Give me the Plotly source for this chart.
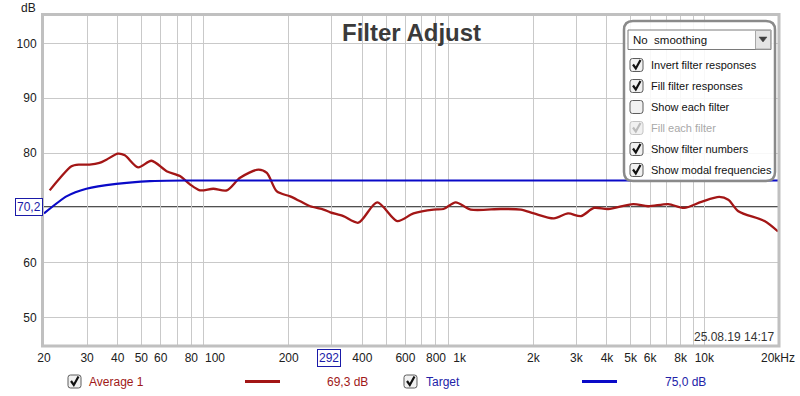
import math
import plotly.graph_objects as go

# ---------------- data ----------------
AVG_FREQ = [21.1, 23.3, 25.9, 27.9, 30.7, 33.7, 36.0, 40.1, 42.8, 48.5, 55.0, 63.4, 71.9, 79.0, 86.8,
            98.4, 111.7, 126.6, 150.5, 162.9, 179, 202.9, 223, 245, 277.8, 296, 334.7, 385.4, 460,
            555.5, 647.6, 782, 859, 963, 1109, 1472, 1778, 2010, 2427, 2773, 3133, 3539, 4045,
            5118, 5890, 7115, 8272, 9724, 11510, 12530, 13770, 17610, 20000]
AVG_DB = [73.2, 75.5, 77.6, 77.9, 77.9, 78.2, 78.8, 79.9, 79.6, 77.4, 78.6, 76.7, 75.8, 74.3, 73.2,
          73.5, 73.2, 75.5, 77.0, 76.4, 73.0, 72.1, 71.2, 70.3, 69.7, 69.2, 68.5, 67.3, 71.0,
          67.6, 69.0, 69.7, 69.8, 71.0, 69.7, 69.8, 69.7, 69.0, 68.1, 69.0, 68.5, 70.0, 69.8,
          70.7, 70.3, 70.7, 70.0, 71.1, 72.0, 71.5, 69.4, 67.6, 65.7]

TGT_FREQ = [20, 24.7, 29.8, 39.5, 54.2, 75.3, 100, 20000]
TGT_DB = [69.0, 72.1, 73.5, 74.4, 74.9, 75.0, 75.0, 75.0]

X_TICK_VALS = [20, 30, 40, 50, 60, 80, 100, 200, 400, 600, 800, 1000, 2000, 3000, 4000,
               5000, 6000, 8000, 10000, 20000]
X_TICK_TEXT = ["20", "30", "40", "50", "60", "80", "100", "200", "400", "600", "800", "1k",
               "2k", "3k", "4k", "5k", "6k", "8k", "10k", "20kHz"]
X_GRID = [m * d for d in (10, 100, 1000) for m in range(2, 10)] + [10000, 20000]
DECADE_LINES = [100, 1000, 10000]
Y_TICK_VALS = [50, 60, 70, 80, 90, 100]
Y_TICK_TEXT = ["50", "60", "", "80", "90", "100"]   # 70 is hidden behind the cursor box

CURSOR_FREQ = 292
CURSOR_DB = 70.2
CURSOR_FREQ_TEXT = "292"
CURSOR_DB_TEXT = "70,2"

LEGEND_NAMES = ["Average 1", "Target"]
LEGEND_VALUES = ["69,3 dB", "75,0 dB"]

PANEL_DROPDOWN = "No\u00a0 smoothing"
PANEL_ITEMS = ["Invert filter responses", "Fill filter responses", "Show each filter",
               "Fill each filter", "Show filter numbers", "Show modal frequencies"]
PANEL_CHECKED = [True, True, False, True, True, True]
PANEL_ENABLED = [True, True, True, False, True, True]

TITLE = "Filter Adjust"
DATE_TEXT = "25.08.19 14:17"

# ---------------- style ----------------
RED = "#a31616"
BLUE = "#0a0ac8"
RED_TXT = "#a01818"
BLUE_TXT = "#2222a8"
FONT = "Liberation Sans, Arial, sans-serif"

PL, PR, PT, PB = 44, 778, 16, 345


def px(x):
    return (x - PL) / (PR - PL)


def py(y):
    return (PB - y) / (PB - PT)


def rr_path(x0, y0, x1, y1, r):
    P = lambda x, y: f"{px(x):.5f},{py(y):.5f}"
    return (f"M {P(x0 + r, y0)} L {P(x1 - r, y0)} Q {P(x1, y0)} {P(x1, y0 + r)} "
            f"L {P(x1, y1 - r)} Q {P(x1, y1)} {P(x1 - r, y1)} L {P(x0 + r, y1)} "
            f"Q {P(x0, y1)} {P(x0, y1 - r)} L {P(x0, y0 + r)} Q {P(x0, y0)} {P(x0 + r, y0)} Z")


def poly_path(pts, close=False):
    s = "M " + " L ".join(f"{px(x):.5f},{py(y):.5f}" for x, y in pts)
    return s + (" Z" if close else "")


fig = go.Figure()
fig.add_trace(go.Scatter(x=AVG_FREQ, y=AVG_DB, mode="lines", hoverinfo="skip",
                         line=dict(color=RED, width=2.3, shape="spline", smoothing=0.8)))
fig.add_trace(go.Scatter(x=TGT_FREQ, y=TGT_DB, mode="lines", hoverinfo="skip",
                         line=dict(color=BLUE, width=2.2, shape="spline", smoothing=0.6)))

shapes = []
# date background (covers minor grid)
shapes.append(dict(type="rect", xref="paper", yref="paper", x0=px(693), x1=px(777), y0=py(345),
                   y1=py(330), fillcolor="white", line=dict(width=0), layer="below"))
for f in DECADE_LINES:
    shapes.append(dict(type="line", xref="x", yref="paper", x0=math.log10(f), x1=math.log10(f),
                       y0=0, y1=1, line=dict(color="#8e8e8e", width=1), layer="below"))
# cursors
shapes.append(dict(type="line", xref="x", yref="paper", x0=math.log10(CURSOR_FREQ),
                   x1=math.log10(CURSOR_FREQ), y0=0, y1=1, line=dict(color="black", width=1),
                   layer="below"))
shapes.append(dict(type="line", xref="paper", yref="y", x0=0, x1=1, y0=CURSOR_DB, y1=CURSOR_DB,
                   line=dict(color="black", width=1), layer="below"))
# frame
shapes.append(dict(type="rect", xref="paper", yref="paper", x0=px(42.5), x1=px(779), y0=py(346),
                   y1=py(14.5), line=dict(color="#c0c0c0", width=3), layer="above"))

# control panel
shapes.append(dict(type="path", xref="paper", yref="paper", path=rr_path(624, 21, 775, 181, 9),
                   fillcolor="rgba(255,255,255,0.86)", line=dict(color="#8a8a8a", width=2.5)))
shapes.append(dict(type="rect", xref="paper", yref="paper", x0=px(628), x1=px(771), y0=py(49.5),
                   y1=py(30), fillcolor="white", line=dict(color="#7a7a7a", width=1)))
shapes.append(dict(type="rect", xref="paper", yref="paper", x0=px(755.5), x1=px(770.5),
                   y0=py(49), y1=py(30.5), fillcolor="#e4e4e4", line=dict(color="#a8a8a8", width=1)))
shapes.append(dict(type="path", xref="paper", yref="paper",
                   path=poly_path([(759, 37), (767, 37), (763, 42)], close=True),
                   fillcolor="#404040", line=dict(color="#404040", width=0.5)))


def checkbox(x0, yc, checked=True, enabled=True):
    border = "#5c5c5c" if enabled else "#c4c4c4"
    tick = "#111111" if enabled else "#bcbcbc"
    out = [dict(type="path", xref="paper", yref="paper", path=rr_path(x0, yc - 6.5, x0 + 13, yc + 6.5, 2.5),
                fillcolor="#f1f1f1", line=dict(color=border, width=1))]
    if checked:
        out.append(dict(type="path", xref="paper", yref="paper",
                        path=poly_path([(x0 + 3, yc - 0.5), (x0 + 5.8, yc + 3.5), (x0 + 10.5, yc - 5)]),
                        line=dict(color=tick, width=2.2)))
    return out


annotations = []
for i, (lab, chk, en) in enumerate(zip(PANEL_ITEMS, PANEL_CHECKED, PANEL_ENABLED)):
    yc = 65 + 21 * i
    shapes += checkbox(630, yc, chk, en)
    annotations.append(dict(text=lab, x=px(649), y=py(yc), xref="paper", yref="paper",
                            xanchor="left", yanchor="middle", showarrow=False,
                            font=dict(size=11, color="#111111" if en else "#a8a8a8", family=FONT)))
annotations.append(dict(text=PANEL_DROPDOWN, x=px(631), y=py(40), xref="paper", yref="paper",
                        xanchor="left", yanchor="middle", showarrow=False,
                        font=dict(size=11.5, color="#111111", family=FONT)))

# bottom legend
leg_cfg = [(68, 87, 245, 280, 325, RED_TXT, RED), (404, 424, 582, 617, 663, BLUE_TXT, BLUE)]
for (cbx, tx, l0, l1, vx, tcol, lcol), name, val in zip(leg_cfg, LEGEND_NAMES, LEGEND_VALUES):
    shapes += checkbox(cbx, 381.5, True, True)
    annotations.append(dict(text=name, x=px(tx), y=py(382), xref="paper", yref="paper",
                            xanchor="left", yanchor="middle", showarrow=False,
                            font=dict(size=12, color=tcol, family=FONT)))
    shapes.append(dict(type="line", xref="paper", yref="paper", x0=px(l0), x1=px(l1), y0=py(381.5),
                       y1=py(381.5), line=dict(color=lcol, width=3)))
    annotations.append(dict(text=val, x=px(vx), y=py(382), xref="paper", yref="paper",
                            xanchor="left", yanchor="middle", showarrow=False,
                            font=dict(size=12, color=tcol, family=FONT)))

# title, axis unit, date, cursor labels
annotations.append(dict(text=f"<b>{TITLE}</b>", x=px(411), y=py(33), xref="paper", yref="paper",
                        xanchor="center", yanchor="middle", showarrow=False,
                        font=dict(size=24, color="#3a3a3a", family=FONT)))
annotations.append(dict(text="dB", x=px(38), y=py(8), xref="paper", yref="paper",
                        xanchor="right", yanchor="middle", showarrow=False,
                        font=dict(size=12, color="#202020", family=FONT)))
annotations.append(dict(text=DATE_TEXT, x=px(776), y=py(337), xref="paper", yref="paper",
                        xanchor="right", yanchor="middle", showarrow=False,
                        font=dict(size=12, color="#333333", family=FONT)))
annotations.append(dict(text=CURSOR_DB_TEXT, x=0, y=CURSOR_DB, xref="paper", yref="y",
                        xanchor="right", yanchor="middle", showarrow=False, xshift=-1,
                        bgcolor="white", bordercolor="#1a1aa8", borderwidth=1, borderpad=1,
                        font=dict(size=12, color="#1a1aa8", family=FONT)))
annotations.append(dict(text=CURSOR_FREQ_TEXT, x=math.log10(CURSOR_FREQ), y=py(357.5), xref="x",
                        yref="paper", xanchor="center", yanchor="middle", showarrow=False,
                        bgcolor="white", bordercolor="#1a1aa8", borderwidth=1, borderpad=1,
                        font=dict(size=12, color="#1a1aa8", family=FONT)))

fig.update_layout(
    width=800, height=396, margin=dict(l=PL, r=800 - PR, t=PT, b=396 - PB, autoexpand=False),
    paper_bgcolor="white", plot_bgcolor="white", showlegend=False,
    font=dict(family=FONT, size=12, color="#202020"),
    shapes=shapes, annotations=annotations,
    xaxis=dict(type="log", range=[math.log10(20), math.log10(20000)], tickmode="array",
               tickvals=X_TICK_VALS, ticktext=X_TICK_TEXT, showgrid=False, zeroline=False,
               showline=False, ticks="outside", ticklen=2, tickcolor="rgba(0,0,0,0)",
               tickfont=dict(size=12, color="#202020"), automargin=False,
               minor=dict(tickmode="array", tickvals=X_GRID, showgrid=True, gridcolor="#c9c9c9",
                          gridwidth=1, ticks="")),
    yaxis=dict(range=[45, 105], tickmode="array", tickvals=Y_TICK_VALS, ticktext=Y_TICK_TEXT,
               showgrid=True, automargin=False,
               gridcolor="#c9c9c9", gridwidth=1, zeroline=False, showline=False, ticks="outside",
               ticklen=4, tickcolor="rgba(0,0,0,0)", tickfont=dict(size=12, color="#202020")),
)

fig.write_html("out.html", config={"displayModeBar": False, "staticPlot": True},
               post_script="document.body.style.margin='0';document.body.style.overflow='hidden';")
